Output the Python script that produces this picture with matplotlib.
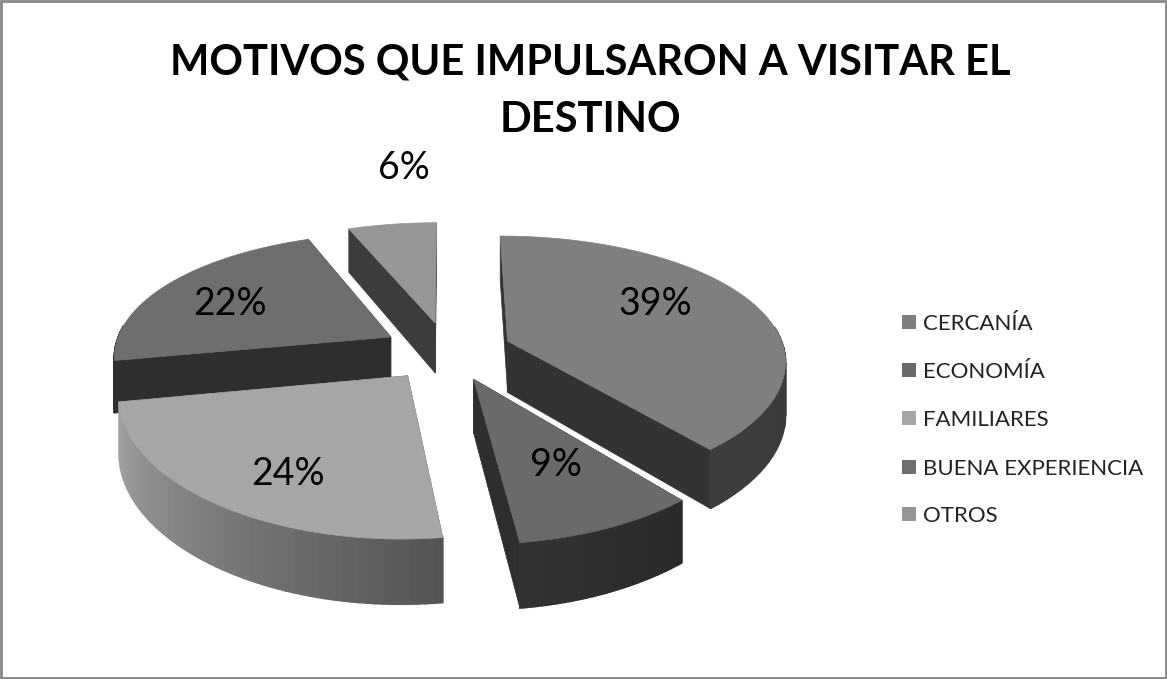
import matplotlib
matplotlib.use("Agg")
import matplotlib.pyplot as plt
from matplotlib.patches import Polygon, Rectangle
import numpy as np

# datos
categorias = ["CERCANÍA", "ECONOMÍA", "FAMILIARES", "BUENA EXPERIENCIA", "OTROS"]
valores = [39, 9, 24, 22, 6]
colores_top = ["#7f7f7f", "#6a6a6a", "#a6a6a6", "#6e6e6e", "#969696"]
colores_cara = ["#333333", "#2e2e2e", "#4a4a4a", "#2e2e2e", "#3c3c3c"]
lado_ini = [0.20, 0.16, 0.33, 0.18, 0.25]
lado_fin = [0.24, 0.20, 0.64, 0.18, 0.25]
titulo = "MOTIVOS QUE IMPULSARON A VISITAR EL\nDESTINO"

# parametros de la vista
CX, CY = 447, 351
R = 277
KY = 0.455
P = 0.17
PX = 0.14
ALTO = 52
EXPL = 0.235

plt.rcParams['font.family'] = ['Lato', 'DejaVu Sans']

def proyectar(X, Y, Z=0.0):
    s = 1.0 / (1.0 + P * Y)
    sx = 1.0 / (1.0 + PX * Y)
    return CX + R * X * sx, CY - KY * R * Y * s + Z * ALTO * s

fig = plt.figure(figsize=(11.67, 6.79), dpi=100)
ax = fig.add_axes([0, 0, 1, 1])
ax.set_xlim(0, 1167)
ax.set_ylim(679, 0)
ax.axis("off")
ax.add_patch(Rectangle((1, 1), 1165, 677, fc="white", ec="#868686", lw=2))

ax.text(590, 91, titulo, ha="center", va="center", fontsize=30, fontweight="bold",
        color="black", linespacing=1.62)

# las rebanadas, de atras hacia adelante
total = sum(valores)
acum = np.cumsum([0] + valores) / total * 2 * np.pi
orden = [4, 3, 0, 2, 1]
pos_et = [(655, 304), (556, 465), (288, 474), (230, 304), (404, 168)]

for i in orden:
    a0, a1 = acum[i], acum[i + 1]
    mid = (a0 + a1) / 2
    ox, oy = EXPL * np.sin(mid), EXPL * np.cos(mid)
    t = np.linspace(a0, a1, 60)
    bx, by = ox + np.sin(t), oy + np.cos(t)

    # caras radiales
    for a in (a0, a1):
        ex, ey = ox + np.sin(a), oy + np.cos(a)
        pts = [proyectar(ox, oy), proyectar(ex, ey), proyectar(ex, ey, 1), proyectar(ox, oy, 1)]
        ax.add_patch(Polygon(pts, fc=colores_cara[i], ec=colores_cara[i], lw=0.5, zorder=2))

    # lado curvo con degradado, solo la parte que mira al frente
    for k in range(len(t) - 1):
        if np.cos((t[k] + t[k + 1]) / 2) > 0.1:
            continue
        f = k / (len(t) - 2)
        g = lado_ini[i] + (lado_fin[i] - lado_ini[i]) * f
        pts = [proyectar(bx[k], by[k]), proyectar(bx[k + 1], by[k + 1]),
               proyectar(bx[k + 1], by[k + 1], 1), proyectar(bx[k], by[k], 1)]
        ax.add_patch(Polygon(pts, fc=str(g), ec=str(g), lw=1.2, zorder=3))

    # cara superior
    xs, ys = proyectar(np.r_[ox, bx], np.r_[oy, by])
    ax.add_patch(Polygon(np.c_[xs, ys], fc=colores_top[i], ec=colores_top[i], lw=0.5, zorder=4))
    ax.text(pos_et[i][0], pos_et[i][1], f"{valores[i]}%", ha="center", va="center",
            fontsize=27, color="black", zorder=5)

# leyenda
y_ley = [322, 370, 418, 467, 514]
for nombre, col, y in zip(categorias, colores_top, y_ley):
    ax.add_patch(Rectangle((902, y - 7), 14, 14, fc=col, ec="none"))
    ax.text(923, y + 8, nombre, ha="left", va="baseline", fontsize=16, color="#222222")

fig.savefig("out.png", dpi=100)
plt.close()
